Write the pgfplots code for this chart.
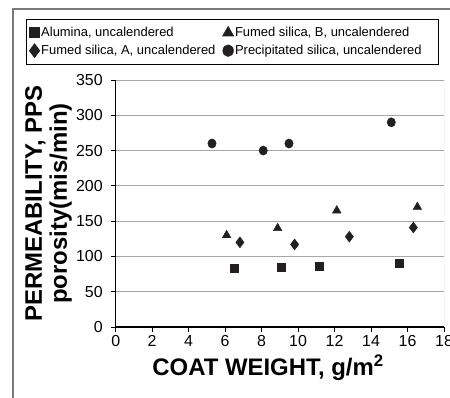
\documentclass[border=0pt]{standalone}
\usepackage{fontspec}
\setmainfont{Liberation Sans}
\usepackage{pgfplots}
\pgfplotsset{compat=1.18}
\definecolor{mk}{HTML}{231F20}
\definecolor{gridc}{HTML}{A6A6A6}
\definecolor{framec}{HTML}{7A7A7A}
\pgfplotsset{mylegimg/.style={legend image code/.code={\draw[##1, every mark/.append style={scale=1.25}] plot coordinates {(6bp,0bp)};}}}
\begin{document}
\begin{tikzpicture}
\useasboundingbox (0,0) rectangle (450bp,398bp);
\draw[framec, line width=1.2bp] (13bp,-2bp) -- (13bp,389bp) -- (452bp,389bp);
\begin{axis}[
  at={(115.7bp,71bp)}, anchor=south west,
  scale only axis, width=328.3bp, height=247bp,
  xmin=0, xmax=18, ymin=0, ymax=350,
  xtick={0,2,...,18}, ytick={0,50,...,350},
  axis x line*=bottom, axis y line*=left,
  axis line style={black, line width=1.1bp, -},
  tick align=outside, major tick length=4.5bp,
  tick style={black, line width=0.8bp},
  ymajorgrids, grid style={gridc, line width=0.9bp},
  ticklabel style={font=\fontsize{16}{16}\selectfont},
  /pgf/number format/assume math mode=true,
  xticklabel style={yshift=-0.5bp},
  yticklabel style={xshift=-5bp},
  xlabel={COAT WEIGHT, g/m\textsuperscript{2}},
  xlabel style={font=\fontsize{24}{24}\selectfont\bfseries, at={(axis description cs:0.464,-0.197)}, anchor=base},
  ylabel={PERMEABILITY, PPS\\porosity(mis/min)},
  ylabel style={align=center, font=\fontsize{24}{25}\selectfont\bfseries, inner sep=0pt, at={(axis description cs:-0.2763,0.5)}, anchor=north, rotate=0},
  legend columns=2,
  legend cell align=left,
  legend style={at={(axis description cs:-0.273,1.247)}, anchor=north west, draw=black, line width=0.7bp,
    font=\fontsize{13}{13}\selectfont, inner xsep=3bp, inner ysep=5.5bp, row sep=2bp, column sep=0bp,
    nodes={inner xsep=1.5bp, inner ysep=2.5bp}},
]
\draw[gridc, line width=0.9bp] (rel axis cs:1,0) -- (rel axis cs:1,1);
\addplot[only marks, mark=square*, mark size=4bp, mark options={fill=mk, draw=mk}, mylegimg]
  coordinates {(6.49,84) (9.10,85) (11.13,86) (15.53,90)};
\addlegendentry{\makebox[180bp][l]{Alumina, uncalendered}}
\addplot[only marks, mark=triangle*, mark size=5bp, mark options={fill=mk, draw=mk}, mylegimg]
  coordinates {(6.08,130) (8.88,140) (12.12,165) (16.54,170)};
\addlegendentry{\makebox[199bp][l]{Fumed silica, B, uncalendered}}
\addplot[only marks, mark=diamond*, mark size=5.5bp, mark options={fill=mk, draw=mk}, mylegimg]
  coordinates {(6.81,120) (9.81,117) (12.81,128) (16.32,141)};
\addlegendentry{\makebox[180bp][l]{Fumed silica, A, uncalendered}}
\addplot[only marks, mark=*, mark size=4.2bp, mark options={fill=mk, draw=mk, yscale=1.1}, mylegimg]
  coordinates {(5.28,260) (8.09,250) (9.50,260) (15.11,290)};
\addlegendentry{\makebox[199bp][l]{Precipitated silica, uncalendered}}
\end{axis}
\end{tikzpicture}
\end{document}
